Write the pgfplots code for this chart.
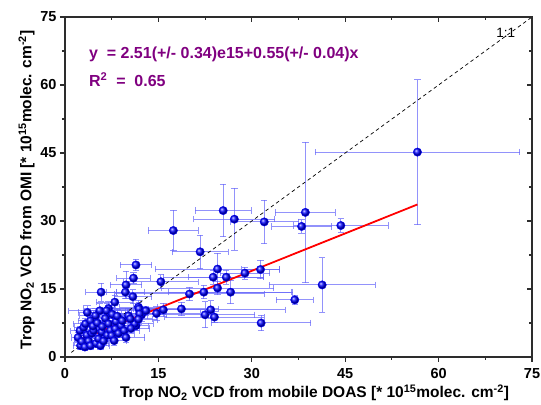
\documentclass[border=0pt]{standalone}
\usepackage{fontspec}
\setmainfont{Liberation Sans}
\usepackage{pgfplots}
\pgfplotsset{compat=1.18}
\usepackage{pgfplotstable}
\definecolor{eqpurple}{RGB}{128,0,128}
\definecolor{errblue}{RGB}{100,100,250}
\definecolor{framegray}{RGB}{45,45,45}

\pgfplotstableread{
x y ex ey
56.6 45.2 16.4 16.0
38.6 31.9 4.8 15.5
38.0 28.8 4.8 1.5
44.3 29.0 7.6 1.5
32.0 29.8 5.5 4.8
27.2 30.4 6.5 6.8
25.4 32.3 4.5 5.8
17.4 27.9 4.0 4.5
21.7 23.2 4.5 3.7
41.3 15.9 8.5 6.0
36.9 12.6 3.0 1.0
31.5 7.5 8.0 1.7
31.4 19.3 3.0 2.0
28.9 18.5 4.0 1.3
24.5 19.4 10.0 3.5
23.8 17.6 8.0 1.5
25.9 17.6 6.0 1.5
24.5 15.2 9.0 1.5
26.6 14.3 10.0 2.6
20.0 13.9 12.0 1.5
22.3 14.3 14.0 1.5
15.4 16.6 6.0 1.5
18.7 10.6 6.0 1.5
15.8 10.4 8.0 1.5
14.7 9.6 7.0 1.5
22.5 9.3 8.0 2.9
23.4 10.4 12.0 2.0
24.0 8.8 8.0 1.2
11.4 20.3 2.5 1.3
11.0 17.4 2.7 1.2
9.8 15.9 2.5 3.0
5.8 14.3 2.5 2.0
9.7 14.3 3.0 1.5
10.9 13.3 3.0 1.5
8.0 12.1 3.0 1.5
11.8 11.0 3.0 1.5
7.0 10.7 4.0 1.5
5.6 10.2 5.0 1.5
12.3 9.3 4.0 1.5
11.9 10.6 4.0 1.5
13.0 10.2 3.0 1.0
12.0 9.5 3.0 1.0
11.4 6.9 2.0 1.0
11.2 7.3 3.0 1.2
2.1 4.3 1.0 1.0
2.5 2.5 1.2 0.8
2.4 5.8 1.5 1.0
2.7 3.4 1.2 0.8
3.0 6.5 1.5 1.0
3.3 7.3 2.0 1.2
3.5 4.8 1.5 0.9
3.2 2.2 1.0 0.8
3.8 3.5 1.5 1.0
4.1 8.0 2.0 1.2
4.1 2.5 1.5 0.8
4.3 5.2 1.8 1.0
4.6 5.8 2.0 1.0
4.9 9.1 2.5 1.5
4.5 6.8 2.0 1.0
5.0 3.0 2.0 1.0
5.2 7.5 2.0 1.2
5.4 4.0 2.0 1.0
5.7 2.5 1.5 0.8
5.9 5.5 2.0 1.0
6.0 6.7 2.5 1.2
6.2 3.5 2.0 0.9
6.5 8.5 2.5 1.2
6.7 10.2 3.0 1.5
6.8 4.8 2.0 1.0
7.0 7.3 2.5 1.2
7.3 5.9 2.0 1.0
7.5 4.7 2.5 1.0
7.6 9.4 3.0 1.5
7.9 3.6 2.0 1.0
8.1 6.2 2.5 1.2
8.2 7.8 3.0 1.2
8.4 9.0 3.0 1.5
8.6 5.2 2.5 1.0
9.0 6.9 3.0 1.2
9.2 8.0 3.0 1.2
9.5 5.8 2.5 1.0
9.8 4.3 3.0 1.0
10.2 9.1 3.0 1.5
10.5 8.4 3.5 1.2
10.6 6.3 3.0 1.0
11.8 8.3 3.0 1.2
3.6 9.8 1.5 1.5
}\data

\begin{document}
\begin{tikzpicture}
\begin{axis}[
  name=ax, scale only axis, width=467pt, height=340pt,
  xmin=0, xmax=75, ymin=0, ymax=75,
  xtick={0,15,...,75}, ytick={0,15,...,75}, minor tick num=1,
  tick pos=left, tick align=outside,
  major tick length=5pt, minor tick length=3pt,
  axis line style={framegray, line width=1.4pt},
  every tick/.style={framegray, line width=1.1pt},
  tick label style={font=\fontsize{14.5}{16}\selectfont\bfseries},
  xticklabel style={yshift=-3pt},
  /pgf/number format/assume math mode=true,
  xlabel={Trop NO\textsubscript{2} VCD from mobile DOAS [* 10\textsuperscript{15}molec. cm\textsuperscript{-2}]},
  ylabel={Trop NO\textsubscript{2} VCD from OMI [* 10\textsuperscript{15}molec. cm\textsuperscript{-2}]},
  label style={font=\fontsize{15.5}{17}\selectfont\bfseries},
  xlabel style={yshift=1pt, xshift=16pt},
  ylabel style={yshift=-1pt, xshift=-3pt},
]
\addplot[only marks, color=blue, mark=ball, mark size=4.2pt, mark options={ball color=blue},
  error bars/.cd, x dir=both, x explicit, y dir=both, y explicit,
  error bar style={errblue, line width=1pt, opacity=0.7},
  error mark options={errblue, rotate=90, mark size=3.2pt, line width=1pt, opacity=0.7}]
  table[x=x, y=y, x error=ex, y error=ey]{\data};
\addplot[black, line width=0.7pt, dash pattern=on 3.5pt off 3pt] coordinates {(1,1) (75,75)};
\addplot[red, line width=1.8pt] coordinates {(2.2,3.72) (56.6,33.64)};
\node[anchor=west, eqpurple, font=\fontsize{16}{18}\selectfont\bfseries] at (axis cs:3.3,66.8) {y\ \ =\ 2.51(+/- 0.34)e15+0.55(+/- 0.04)x};
\node[anchor=west, eqpurple, font=\fontsize{16}{18}\selectfont\bfseries] at (axis cs:3.3,61.2) {R\textsuperscript{2}\ \ =\ \ 0.65};
\node[font=\fontsize{13.5}{15}\selectfont] at (axis cs:70.8,71.4) {1:1};
\coordinate (sw) at (rel axis cs:0,0);
\coordinate (ne) at (rel axis cs:1,1);
\end{axis}
\begin{axis}[
  scale only axis, width=467pt, height=340pt,
  xmin=0, xmax=75, ymin=0, ymax=75,
  xtick={0,15,...,75}, ytick={0,15,...,75}, minor tick num=1,
  xtick pos=right, ytick pos=right, tick align=inside,
  major tick length=5pt, minor tick length=3pt,
  axis line style={framegray, line width=1.4pt},
  every tick/.style={framegray, line width=1.1pt},
  xticklabels={}, yticklabels={},
]
\end{axis}
\pgfresetboundingbox
\path ([shift={(-65pt,-48pt)}]sw) rectangle ([shift={(9pt,17pt)}]ne);
\end{tikzpicture}
\end{document}
